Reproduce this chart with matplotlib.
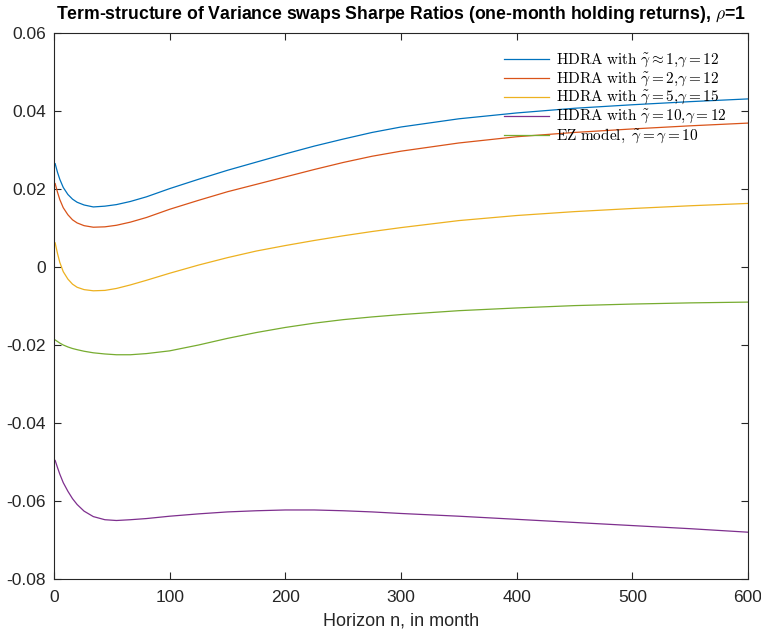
import matplotlib
matplotlib.use("Agg")
import matplotlib.pyplot as plt

plt.rcParams['font.family'] = ['Liberation Sans', 'DejaVu Sans']
plt.rcParams['mathtext.fontset'] = 'cm'

horizon = [1, 3, 5, 8, 12, 16, 20, 26, 34, 44, 54, 66, 80, 100, 125, 150, 175, 200,
           225, 250, 275, 300, 350, 400, 450, 500, 550, 600]

sr_hdra_1_12 = [0.0265, 0.0243, 0.0225, 0.0204, 0.0186, 0.0174, 0.0166, 0.0159, 0.0154, 0.0156,
                0.0160, 0.0168, 0.0180, 0.0201, 0.0225, 0.0248, 0.0269, 0.0290,
                0.0310, 0.0328, 0.0345, 0.0359, 0.0380, 0.0395, 0.0407, 0.0416, 0.0424, 0.0431]
sr_hdra_2_12 = [0.0214, 0.0192, 0.0173, 0.0152, 0.0134, 0.0121, 0.0113, 0.0106, 0.0102, 0.0103,
                0.0107, 0.0115, 0.0127, 0.0148, 0.0171, 0.0193, 0.0212, 0.0231,
                0.0250, 0.0268, 0.0284, 0.0297, 0.0318, 0.0334, 0.0345, 0.0354, 0.0362, 0.0369]
sr_hdra_5_15 = [0.0062, 0.0035, 0.0012, -0.0012, -0.0031, -0.0044, -0.0052, -0.0058, -0.0061, -0.0060,
                -0.0055, -0.0046, -0.0034, -0.0016, 0.0005, 0.0024, 0.0041, 0.0055,
                0.0068, 0.0080, 0.0091, 0.0101, 0.0119, 0.0132, 0.0142, 0.0150, 0.0157, 0.0163]
sr_hdra_10_12 = [-0.0496, -0.0514, -0.0531, -0.0553, -0.0575, -0.0594, -0.0609, -0.0626, -0.0640, -0.0648,
                 -0.0650, -0.0648, -0.0645, -0.0639, -0.0633, -0.0628, -0.0625, -0.0623,
                 -0.0623, -0.0625, -0.0628, -0.0632, -0.0639, -0.0647, -0.0655, -0.0663, -0.0671, -0.0680]
sr_ez_10 = [-0.0187, -0.0191, -0.0195, -0.0200, -0.0205, -0.0209, -0.0212, -0.0216, -0.0220, -0.0223,
            -0.0225, -0.0225, -0.0222, -0.0215, -0.0200, -0.0183, -0.0168, -0.0155,
            -0.0144, -0.0135, -0.0128, -0.0122, -0.0112, -0.0105, -0.0099, -0.0095, -0.0092, -0.0090]

labels = [
    r"$\mathrm{HDRA\ with}\ \tilde{\gamma} \approx 1{,}\gamma = 12$",
    r"$\mathrm{HDRA\ with}\ \tilde{\gamma} = 2{,}\gamma = 12$",
    r"$\mathrm{HDRA\ with}\ \tilde{\gamma} = 5{,}\gamma = 15$",
    r"$\mathrm{HDRA\ with}\ \tilde{\gamma} = 10{,}\gamma = 12$",
    r"$\mathrm{EZ\ model,}\ \tilde{\gamma} = \gamma = 10$",
]
colors = ['#0072BD', '#D95319', '#EDB120', '#7E2F8E', '#77AC30']
series = [sr_hdra_1_12, sr_hdra_2_12, sr_hdra_5_15, sr_hdra_10_12, sr_ez_10]

fig = plt.figure(figsize=(7.61, 6.32), dpi=100)
ax = fig.add_axes([54/761, 53/632, 694/761, 546/632])

for s, c, l in zip(series, colors, labels):
    ax.plot(horizon, s, color=c, lw=0.9, label=l)

ax.set_xlim(0, 600)
ax.set_ylim(-0.08, 0.06)
ax.set_xticks([0, 100, 200, 300, 400, 500, 600])
ax.set_yticks([-0.08, -0.06, -0.04, -0.02, 0, 0.02, 0.04, 0.06])
ax.set_yticklabels(['-0.08', '-0.06', '-0.04', '-0.02', '0', '0.02', '0.04', '0.06'])
ax.tick_params(direction='in', top=True, right=True, length=5, width=0.8,
               labelsize=12.5, colors='#262626', pad=6)
ax.tick_params(axis='x', pad=8)
for sp in ax.spines.values():
    sp.set_color('#262626')
    sp.set_linewidth(0.8)

ax.set_xlabel('Horizon n, in month', fontsize=13, color='#262626', labelpad=5)
ax.set_title(r'Term-structure of Variance swaps Sharpe Ratios (one-month holding returns), $\rho$=1',
             fontsize=12.7, fontweight='bold', pad=10)

leg = ax.legend(loc='upper left', bbox_to_anchor=(0.64, 0.977), frameon=False,
                fontsize=11, handlelength=2.9, handletextpad=0.5, labelspacing=0.05,
                borderaxespad=0)

fig.savefig('out.png', dpi=100)
